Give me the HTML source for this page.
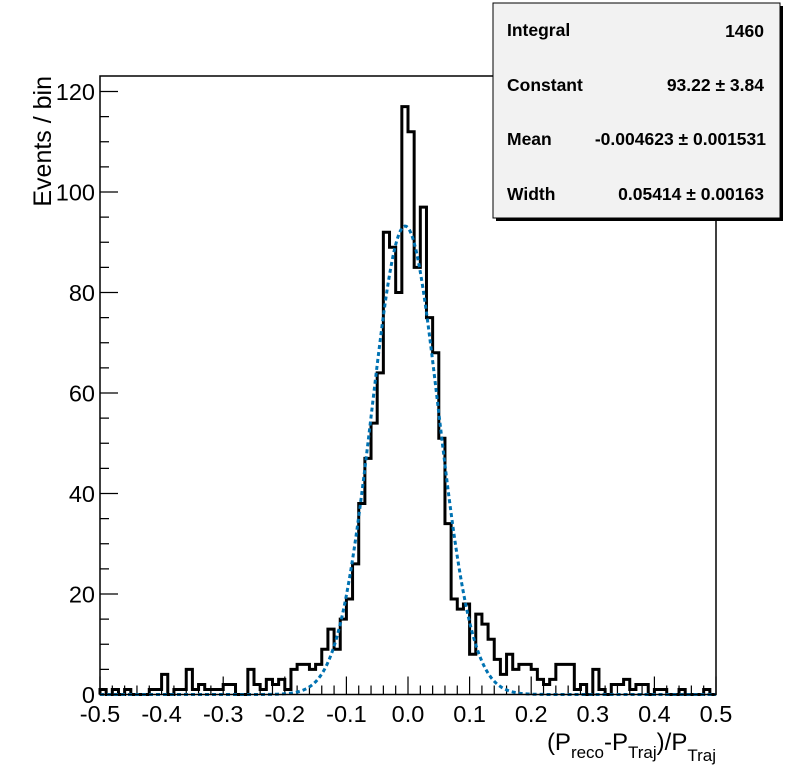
<!DOCTYPE html>
<html><head><meta charset="utf-8"><style>
html,body{margin:0;padding:0;background:#fff;}
svg{display:block;font-family:"Liberation Sans",Arial,sans-serif;}
</style></head><body>
<svg id="chart" width="796" height="772" viewBox="0 0 796 772" xmlns="http://www.w3.org/2000/svg">
<rect x="0" y="0" width="796" height="772" fill="#fff"/>
<g id="ticks"></g>
<g id="labels" font-size="23.5" fill="#000"></g>
<path id="hist" fill="none" stroke="#000" stroke-width="3"/>
<path id="fit" fill="none" stroke="#0072b2" stroke-width="3" stroke-dasharray="4,3"/>
<rect x="100" y="76" width="616" height="618.5" fill="none" stroke="#000" stroke-width="1.5"/>
<text x="51" y="76" transform="rotate(-90 51 76)" text-anchor="end" font-size="25">Events / bin</text>
<text x="716" y="750" text-anchor="end" font-size="24">(P<tspan font-size="17" dy="8">reco</tspan><tspan dy="-8">-P</tspan><tspan font-size="17" dy="8">Traj</tspan><tspan dy="-8">)/P</tspan><tspan font-size="17" dy="11">Traj</tspan></text>
<g>
<rect x="496" y="6" width="287" height="215" fill="#000"/>
<rect x="493" y="3" width="287" height="215" fill="#f2f2f2" stroke="#000" stroke-width="1"/>
<g font-size="17.5" font-weight="bold">
<text x="507" y="36">Integral</text>
<text x="764" y="37" text-anchor="end">1460</text>
<text x="507" y="91">Constant</text>
<text x="764" y="91" text-anchor="end">93.22 ± 3.84</text>
<text x="507" y="145">Mean</text>
<text x="766" y="145" text-anchor="end">-0.004623 ± 0.001531</text>
<text x="507" y="200">Width</text>
<text x="764" y="200" text-anchor="end">0.05414 ± 0.00163</text>
</g></g>
</svg>
<script>
const binCounts = [1,0,1,0,1,0,0,0,1,1,4,0,1,1,5,1,2,1,1,1,2,2,0,0,5,2,1,3,2,3,1,5,6,6,5,6,9,13,9,15,19,26,38,47,54,64,92,89,80,117,112,85,97,75,68,51,34,19,17,18,8,16,14,11,7,4,8,5,6,6,5,3,2,3,6,6,6,1,2,0,5,1,0,2,2,3,1,2,2,0,1,1,0,0,1,0,0,0,1,0];
const fitParams = [93.22, -0.004623, 0.05414];
const xTickLabels = ["-0.5","-0.4","-0.3","-0.2","-0.1","0.0","0.1","0.2","0.3","0.4","0.5"];
const yTickLabels = ["0","20","40","60","80","100","120"];
const xMin=-0.5, xMax=0.5;
const X = v => 100 + (v - xMin) / (xMax - xMin) * 616;
const Y = c => 694.5 - c * 5.025;
const NS="http://www.w3.org/2000/svg";
const bw=(xMax-xMin)/binCounts.length;
let d="M"+X(xMin)+","+Y(0);
binCounts.forEach((c,i)=>{d+=" L"+X(xMin+i*bw)+","+Y(c)+" L"+X(xMin+(i+1)*bw)+","+Y(c);});
d+=" L"+X(xMax)+","+Y(0);
document.getElementById('hist').setAttribute('d',d);
let f="";
for(let k=0;k<=400;k++){const x=xMin+k*(xMax-xMin)/400;const y=fitParams[0]*Math.exp(-0.5*Math.pow((x-fitParams[1])/fitParams[2],2));f+=(k?" L":"M")+X(x).toFixed(2)+","+Y(y).toFixed(2);}
document.getElementById('fit').setAttribute('d',f);
const tg=document.getElementById('ticks'), lg=document.getElementById('labels');
let td="";
for(let i=0;i<=50;i++){const x=X(xMin+i*0.02);const L=(i%5===0)?18:9;td+=`M${x},694.5 V${694.5-L} `;}
for(let i=0;i<=24;i++){const y=Y(i*5);if(y<76)break;const L=(i%4===0)?18:9;td+=`M100,${y} H${100+L} `;}
const tp=document.createElementNS(NS,'path');
tp.setAttribute('d',td);tp.setAttribute('stroke','#000');tp.setAttribute('stroke-width','1.2');


tg.appendChild(tp);
xTickLabels.forEach((s,i)=>{const t=document.createElementNS(NS,'text');t.setAttribute('x',X(parseFloat(s)));t.setAttribute('y',722);t.setAttribute('text-anchor','middle');t.textContent=s;


lg.appendChild(t);});
yTickLabels.forEach(s=>{const t=document.createElementNS(NS,'text');t.setAttribute('x',95);t.setAttribute('y',Y(parseFloat(s))+8.5);t.setAttribute('text-anchor','end');t.textContent=s;


lg.appendChild(t);});
</script>
</body></html>
